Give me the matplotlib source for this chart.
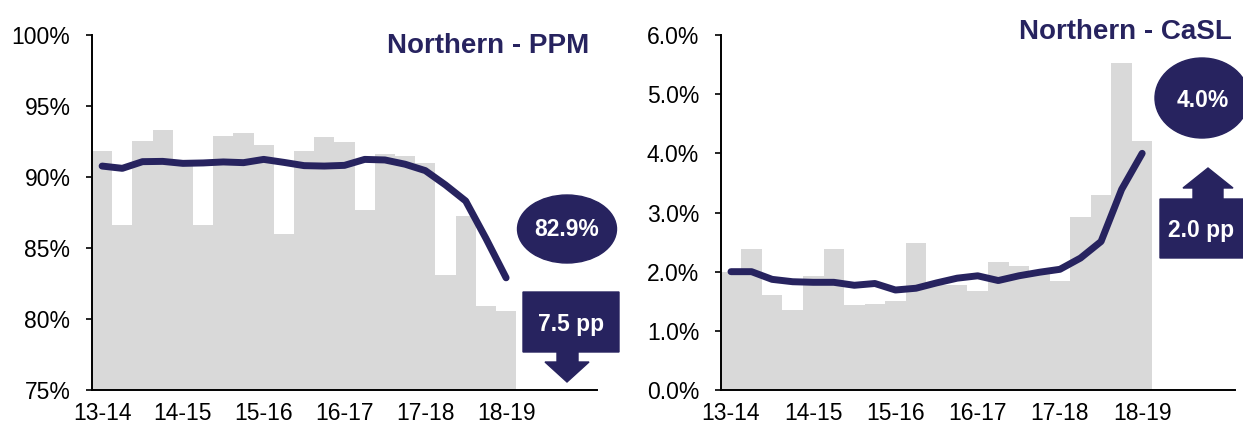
import matplotlib
matplotlib.use("Agg")
import matplotlib.pyplot as plt
from matplotlib.patches import Ellipse, Polygon

plt.rcParams['font.family'] = ['Liberation Sans', 'DejaVu Sans']

navy = '#27235f'
grey = '#d9d9d9'

years = ['13-14', '14-15', '15-16', '16-17', '17-18', '18-19']

# PPM, per period (bars) and moving annual average (line)
ppm_bars = [91.85, 86.6, 92.55, 93.3, 91.0, 86.65, 92.9, 93.1, 92.25, 86.0, 91.8,
            92.8, 92.5, 87.65, 91.65, 91.5, 91.0, 83.1, 87.25, 80.9, 80.55]
ppm_maa = [90.77, 90.61, 91.08, 91.1, 90.96, 90.99, 91.06, 91.01, 91.24, 91.03, 90.8,
           90.77, 90.82, 91.24, 91.2, 90.9, 90.45, 89.44, 88.31, 85.68, 82.9]

# CaSL
casl_bars = [2.0, 2.39, 1.60, 1.36, 1.92, 2.38, 1.43, 1.45, 1.50, 2.48, 1.78,
             1.77, 1.67, 2.17, 2.09, 1.97, 1.85, 2.92, 3.30, 5.52, 4.21]
casl_maa = [2.0, 2.0, 1.87, 1.83, 1.82, 1.82, 1.77, 1.80, 1.69, 1.72, 1.81,
            1.89, 1.93, 1.85, 1.93, 1.99, 2.04, 2.23, 2.51, 3.39, 4.0]

n_slots = 25  # category axis is longer than the data

fig = plt.figure(figsize=(12.43, 4.28), dpi=100)
ax1 = fig.add_axes([92 / 1243, 38 / 428, 505 / 1243, 355 / 428])
ax2 = fig.add_axes([720.7 / 1243, 38 / 428, 514 / 1243, 355 / 428])


def draw_panel(ax, bars, line, ylim, yticks, fmt, title, title_xy):
    x = list(range(len(bars)))
    ax.bar(x, [b - ylim[0] for b in bars], bottom=ylim[0], width=1.0,
           color=grey, linewidth=0, zorder=1)
    ax.plot(x, line, color=navy, lw=5, solid_capstyle='round',
            solid_joinstyle='round', zorder=3)
    ax.set_xlim(-0.5, n_slots - 0.5)
    ax.set_ylim(*ylim)
    ax.set_yticks(yticks)
    ax.set_yticklabels([fmt.format(v) for v in yticks])
    ax.set_xticks(list(range(0, len(bars), 4)))
    ax.set_xticklabels(years)
    for s in ['top', 'right']:
        ax.spines[s].set_visible(False)
    for s in ['left', 'bottom']:
        ax.spines[s].set_linewidth(1.4)
        ax.spines[s].set_color('black')
    ax.tick_params(axis='y', direction='out', length=4.5, width=1.2,
                   labelsize=16.5, pad=11)
    ax.tick_params(axis='x', length=0, labelsize=16.5, pad=9)
    ax.text(title_xy[0], title_xy[1], title, transform=ax.transAxes,
            ha='right', va='center', fontsize=20, fontweight='bold', color=navy)


draw_panel(ax1, ppm_bars, ppm_maa, (75, 100), [75, 80, 85, 90, 95, 100],
           '{:.0f}%', 'Northern - PPM', (0.984, 0.969))
draw_panel(ax2, casl_bars, casl_maa, (0, 6), [0, 1, 2, 3, 4, 5, 6],
           '{:.1f}%', 'Northern - CaSL', (0.995, 1.008))

# callouts drawn in figure pixel coordinates
ov = fig.add_axes([0, 0, 1, 1], zorder=10)
ov.set_xlim(0, 1243)
ov.set_ylim(428, 0)
ov.axis('off')

ov.add_patch(Ellipse((567, 229), 99, 68, color=navy))
ov.text(567, 229, '82.9%', color='white', fontsize=16.5, fontweight='bold',
        ha='center', va='center')
down = [(523, 292), (619, 292), (619, 352), (578, 352), (578, 362), (589, 362),
        (567, 382), (545, 362), (557, 362), (557, 352), (523, 352)]
ov.add_patch(Polygon(down, closed=True, color=navy))
ov.text(571, 324, '7.5 pp', color='white', fontsize=16.5, fontweight='bold',
        ha='center', va='center')

ov.add_patch(Ellipse((1202, 98), 94, 80, color=navy))
ov.text(1203, 100, '4.0%', color='white', fontsize=16.5, fontweight='bold',
        ha='center', va='center')
up = [(1160, 199), (1193, 199), (1193, 188), (1183, 188), (1208, 168), (1233, 188),
      (1223, 188), (1223, 199), (1243, 199), (1243, 258), (1160, 258)]
ov.add_patch(Polygon(up, closed=True, color=navy))
ov.text(1201, 230, '2.0 pp', color='white', fontsize=16.5, fontweight='bold',
        ha='center', va='center')

fig.savefig('out.png', dpi=100)
